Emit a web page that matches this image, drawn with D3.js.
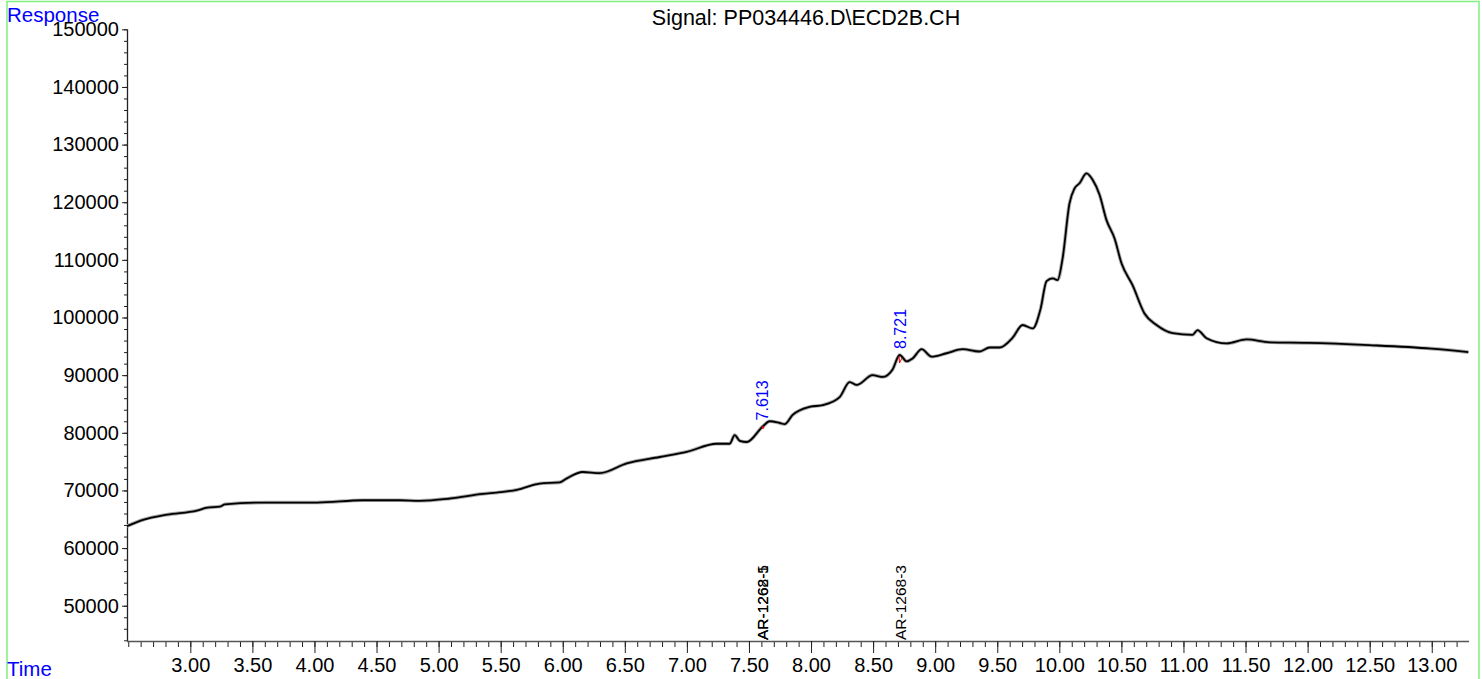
<!DOCTYPE html>
<html>
<head>
<meta charset="utf-8">
<script src="https://cdn.jsdelivr.net/npm/d3@7"></script>
<style>
  html, body { margin: 0; padding: 0; background: #fff; }
  svg { display: block; }
  text { font-family: "Liberation Sans", Arial, sans-serif; }
</style>
</head>
<body>
<svg id="chart" width="1482" height="679"></svg>
<script>
// ---- data ----
const times = [2.490, 2.619, 2.812, 3.054, 3.134, 3.239, 3.279, 3.617, 4.020, 4.390,
  4.688, 4.849, 5.091, 5.356, 5.493, 5.630, 5.815, 5.976, 6.033, 6.161,
  6.298, 6.516, 6.781, 6.999, 7.240, 7.345, 7.385, 7.426, 7.482, 7.611,
  7.667, 7.748, 7.788, 7.852, 7.989, 8.094, 8.231, 8.311, 8.368, 8.496,
  8.577, 8.657, 8.714, 8.770, 8.818, 8.891, 8.971, 9.092, 9.221, 9.358,
  9.438, 9.519, 9.624, 9.704, 9.785, 9.849, 9.897, 9.946, 9.986, 10.026,
  10.082, 10.123, 10.163, 10.219, 10.268, 10.324, 10.380, 10.445, 10.501, 10.590,
  10.686, 10.783, 10.912, 11.073, 11.113, 11.186, 11.347, 11.508, 11.693, 11.999,
  12.498, 12.997, 13.295];
const responses = [63800, 64900, 65800, 66500, 67000, 67200, 67600, 67900, 67900, 68300,
  68300, 68200, 68600, 69400, 69700, 70100, 71200, 71400, 72100, 73200,
  73000, 74700, 75800, 76700, 78100, 78100, 79600, 78600, 78400, 81100,
  82000, 81700, 81500, 83100, 84500, 84800, 86200, 88800, 88300, 90000,
  89700, 91000, 93500, 92400, 92900, 94500, 93200, 93800, 94500, 94100,
  94800, 94800, 96500, 98700, 98100, 101500, 106300, 106800, 106500, 110200,
  119800, 122400, 123300, 125000, 123900, 121300, 116900, 113700, 109400, 105600,
  100700, 98700, 97300, 97000, 97800, 96400, 95500, 96200, 95700, 95600,
  95200, 94600, 94000];

const peakTimes = [7.613, 8.721];
const peakResponses = [81100, 93500];
const peakLabels = ["7.613", "8.721"];

const compoundTimes = [7.613, 7.613, 8.721];
const compoundNames = ["AR-1262-5", "AR-1268-1", "AR-1268-3"];

const xTickValues = [3.0, 3.5, 4.0, 4.5, 5.0, 5.5, 6.0, 6.5, 7.0, 7.5, 8.0, 8.5, 9.0, 9.5,
  10.0, 10.5, 11.0, 11.5, 12.0, 12.5, 13.0];
const yTickValues = [50000, 60000, 70000, 80000, 90000, 100000, 110000, 120000, 130000, 140000, 150000];

const titleText = "Signal: PP034446.D\\ECD2B.CH";
const yTitle = "Response";
const xTitle = "Time";

// ---- layout ----
const svg = d3.select("#chart");
const plotLeft = 127, plotRight = 1469, plotTop = 29.3, plotBottom = 641;

const x = d3.scaleLinear().domain([2.49, 13.3]).range([plotLeft, plotRight]);
const y = d3.scaleLinear().domain([43880, 150000]).range([plotBottom, plotTop]);

// frame
svg.append("rect")
  .attr("x", 7).attr("y", 1.5).attr("width", 1472).attr("height", 700)
  .attr("fill", "none").attr("stroke", "#80f080").attr("stroke-width", 1.5);

// title
svg.append("text")
  .attr("x", 806).attr("y", 25)
  .attr("text-anchor", "middle")
  .attr("font-size", 21.5).attr("fill", "#000")
  .text(titleText);

svg.append("text")
  .attr("x", 7).attr("y", 22)
  .attr("font-size", 20.5).attr("fill", "#0000ff")
  .text(yTitle);

svg.append("text")
  .attr("x", 7).attr("y", 676)
  .attr("font-size", 20.5).attr("fill", "#0000ff")
  .text(xTitle);

// y axis
const yMinor = d3.range(44000, 150001, 2000);
const yAxisMinor = d3.axisLeft(y).tickValues(yMinor).tickSize(3).tickFormat("");
const yAxisMajor = d3.axisLeft(y).tickValues(yTickValues).tickSize(5).tickPadding(3).tickFormat(d3.format("d"));

const gyMinor = svg.append("g").attr("transform", `translate(${plotLeft},0)`).call(yAxisMinor);
gyMinor.select(".domain").remove();
gyMinor.selectAll("line").attr("stroke", "#222");
const gy = svg.append("g").attr("transform", `translate(${plotLeft},0)`).call(yAxisMajor);
gy.select(".domain").attr("d", `M0.5,${plotTop}V${plotBottom}`).attr("stroke", "#222").attr("stroke-width", 1.3);
gy.selectAll("line").attr("stroke", "#222");
gy.selectAll("text").attr("font-size", 20).attr("fill", "#000")
  .attr("font-family", "'Liberation Sans', Arial, sans-serif");

// x axis
const xMinor = d3.range(2.5, 13.21, 0.1).map(v => Math.round(v * 10) / 10);
const xAxisMinor = d3.axisBottom(x).tickValues(xMinor).tickSize(6).tickFormat("");
const xAxisMajor = d3.axisBottom(x).tickValues(xTickValues).tickSize(12).tickPadding(5).tickFormat(d3.format(".2f"));

const gxMinor = svg.append("g").attr("transform", `translate(0,${plotBottom})`).call(xAxisMinor);
gxMinor.select(".domain").remove();
gxMinor.selectAll("line").attr("stroke", "#222");
const gx = svg.append("g").attr("transform", `translate(0,${plotBottom})`).call(xAxisMajor);
gx.select(".domain").attr("d", `M${plotLeft},0.5H${plotRight}`).attr("stroke", "#555").attr("stroke-width", 1.5);
gx.selectAll("line").attr("stroke", "#222");
gx.selectAll("text").attr("font-size", 20).attr("fill", "#000")
  .attr("font-family", "'Liberation Sans', Arial, sans-serif");

// trace
const pts = times.map((t, i) => [t, responses[i]]);
const line = d3.line().x(d => x(d[0])).y(d => y(d[1])).curve(d3.curveMonotoneX);
svg.append("path").datum(pts)
  .attr("d", line).attr("fill", "none")
  .attr("stroke", "#aaa").attr("stroke-width", 3.6).attr("stroke-linejoin", "round");
svg.append("path").datum(pts)
  .attr("d", line).attr("fill", "none")
  .attr("stroke", "#000").attr("stroke-width", 1.8).attr("stroke-linejoin", "round");

// peak markers (red) and labels (blue)
peakTimes.forEach((t, i) => {
  const px = x(t), py = y(peakResponses[i]);
  if (i === 0) {
    svg.append("circle").attr("cx", px).attr("cy", py + 1).attr("r", 1.3).attr("fill", "#ff0000");
  } else {
    svg.append("path")
      .attr("d", `M${px - 1.5},${py + 1}L${px - 1},${py + 8}L${px + 1.5},${py + 3}`)
      .attr("fill", "none").attr("stroke", "#ff0000").attr("stroke-width", 1);
  }
  svg.append("text")
    .attr("transform", `translate(${px + 5.5},${py - 6}) rotate(-90)`)
    .attr("font-size", 16).attr("fill", "#0000ff")
    .text(peakLabels[i]);
});

// compound labels along x axis
compoundTimes.forEach((t, i) => {
  svg.append("text")
    .attr("transform", `translate(${x(t) + 5.5},${plotBottom - 1}) rotate(-90)`)
    .attr("font-size", 15.5).attr("fill", "#000")
    .text(compoundNames[i]);
});
</script>
</body>
</html>
